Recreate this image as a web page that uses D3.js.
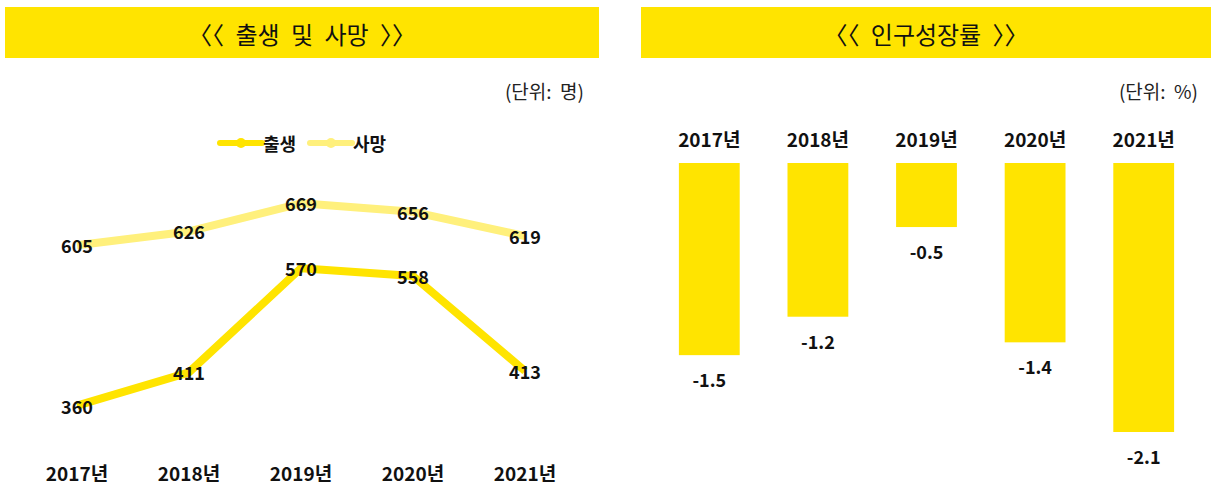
<!DOCTYPE html>
<html>
<head>
<meta charset="utf-8">
<script src="https://cdn.jsdelivr.net/npm/d3@7"></script>
<style>
  body { margin: 0; background: #fff; }
  svg { display: block; font-family: "Noto Sans CJK KR", "Noto Sans", sans-serif; }
</style>
</head>
<body>
<div id="chart"></div>
<script>
// data
const years = ["2017", "2018", "2019", "2020", "2021"];
const births = [360, 411, 570, 558, 413];
const deaths = [605, 626, 669, 656, 619];
const growthRate = [-1.5, -1.2, -0.5, -1.4, -2.1];

const width = 1211, height = 489;
const yellow = "#FFE400";
const lightYellow = "#FFF07C";

const svg = d3.select("#chart")
    .append("svg")
    .attr("width", width)
    .attr("height", height);

// title banners
function banner(x, w, label) {
    svg.append("rect")
        .attr("x", x).attr("y", 7)
        .attr("width", w).attr("height", 51)
        .attr("fill", yellow);
    svg.append("text")
        .attr("x", x + w / 2).attr("y", 33)
        .attr("text-anchor", "middle")
        .attr("dominant-baseline", "central")
        .attr("font-size", 24)
        .attr("word-spacing", 6)
        .attr("fill", "#111")
        .text("〈〈 " + label + " 〉〉");
}
banner(5, 594, "출생 및 사망");
banner(641, 570, "인구성장률");

// unit labels
svg.append("text")
    .attr("x", 584).attr("y", 90)
    .attr("text-anchor", "end").attr("dominant-baseline", "central")
    .attr("font-size", 19).attr("fill", "#222")
    .attr("xml:space", "preserve")
    .text("(단위:  명)");
svg.append("text")
    .attr("x", 1198).attr("y", 90)
    .attr("text-anchor", "end").attr("dominant-baseline", "central")
    .attr("font-size", 19).attr("fill", "#222")
    .attr("xml:space", "preserve")
    .text("(단위:  %)");

// ---- Left: line chart ----
const x = d3.scalePoint()
    .domain(years)
    .range([77, 525]);

const y = d3.scaleLinear()
    .domain([300, 700])
    .range([445, 183]);

const line = d3.line()
    .x((d, i) => x(years[i]))
    .y(d => y(d));

const series = [
    { name: "출생", values: births, color: yellow },
    { name: "사망", values: deaths, color: lightYellow }
];

const left = svg.append("g");

series.forEach(s => {
    left.append("path")
        .datum(s.values)
        .attr("d", line)
        .attr("fill", "none")
        .attr("stroke", s.color)
        .attr("stroke-width", 8)
        .attr("stroke-linejoin", "round");
});

series.forEach(s => {
    left.selectAll(null)
        .data(s.values)
        .enter()
        .append("text")
        .attr("x", (d, i) => x(years[i]))
        .attr("y", d => y(d))
        .attr("text-anchor", "middle")
        .attr("dominant-baseline", "central")
        .attr("font-size", 18)
        .attr("font-weight", 700)
        .attr("fill", "#111")
        .text(d => d);
});

// x labels
left.selectAll(".xlab")
    .data(years)
    .enter()
    .append("text")
    .attr("x", d => x(d))
    .attr("y", 472)
    .attr("text-anchor", "middle")
    .attr("dominant-baseline", "central")
    .attr("font-size", 19)
    .attr("font-weight", 700)
    .attr("fill", "#111")
    .text(d => d + "년");

// legend
const legend = left.selectAll(".legend")
    .data(series)
    .enter()
    .append("g")
    .attr("transform", (d, i) => `translate(${220 + i * 90},143)`);
legend.append("line")
    .attr("x1", 0).attr("x2", 42)
    .attr("stroke", d => d.color)
    .attr("stroke-width", 6)
    .attr("stroke-linecap", "round");
legend.append("circle")
    .attr("cx", 21).attr("r", 5)
    .attr("fill", d => d.color);
legend.append("text")
    .attr("x", 43)
    .attr("dominant-baseline", "central")
    .attr("font-size", 18)
    .attr("font-weight", 700)
    .attr("fill", "#111")
    .text(d => d.name);

// ---- Right: bar chart ----
const xb = d3.scaleBand()
    .domain(years)
    .range([655, 1198])
    .paddingInner(0.44)
    .paddingOuter(0.22);

const yb = d3.scaleLinear()
    .domain([-2.1, 0])
    .range([432, 163]);

const right = svg.append("g");

right.selectAll("rect.bar")
    .data(growthRate)
    .enter()
    .append("rect")
    .attr("class", "bar")
    .attr("x", (d, i) => xb(years[i]))
    .attr("y", yb(0))
    .attr("width", xb.bandwidth())
    .attr("height", d => yb(d) - yb(0))
    .attr("fill", yellow);

right.selectAll(".vlab")
    .data(growthRate)
    .enter()
    .append("text")
    .attr("x", (d, i) => xb(years[i]) + xb.bandwidth() / 2)
    .attr("y", d => yb(d) + 24)
    .attr("text-anchor", "middle")
    .attr("dominant-baseline", "central")
    .attr("font-size", 18)
    .attr("font-weight", 700)
    .attr("fill", "#111")
    .text(d => d.toFixed(1));

right.selectAll(".ylab")
    .data(years)
    .enter()
    .append("text")
    .attr("x", d => xb(d) + xb.bandwidth() / 2)
    .attr("y", 138)
    .attr("text-anchor", "middle")
    .attr("dominant-baseline", "central")
    .attr("font-size", 19)
    .attr("font-weight", 700)
    .attr("fill", "#111")
    .text(d => d + "년");
</script>
</body>
</html>
